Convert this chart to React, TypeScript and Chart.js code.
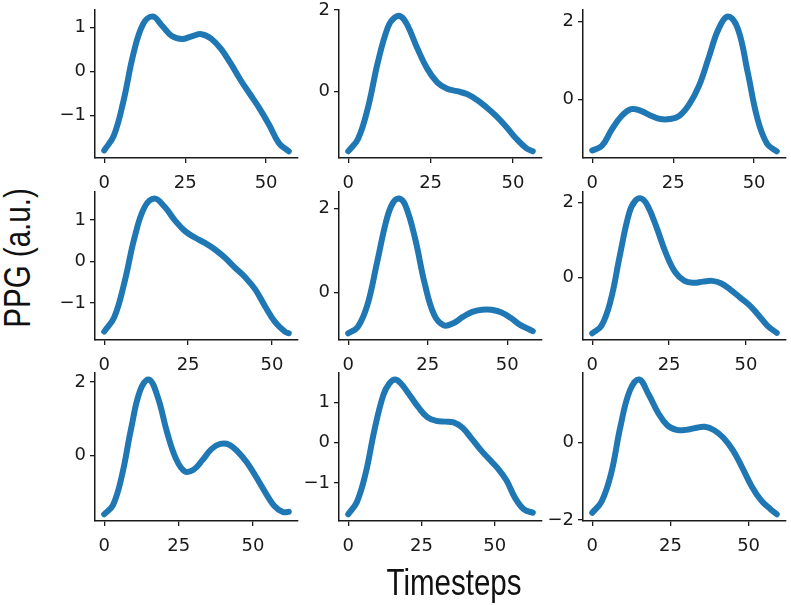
import React, { useEffect, useRef } from "react";
import { Chart, registerables } from "chart.js";

Chart.register(...registerables);

// ---- data ----
const xTickValues = [0, 25, 50];

const p1X = [0, 3, 6, 9, 12, 15, 18, 21, 24, 27, 30, 33, 36, 39, 42, 45, 48, 51, 54, 57];
const p1Y = [-1.79, -1.45, -0.65, 0.4, 1.08, 1.25, 1.03, 0.8, 0.74, 0.8, 0.85, 0.75, 0.52, 0.19, -0.18, -0.51, -0.84, -1.22, -1.63, -1.81];
const p1Ticks = [-1, 0, 1];

const p2X = [0, 3, 6, 9, 12, 14, 16, 18, 21, 24, 27, 30, 33, 36, 39, 42, 45, 48, 51, 54, 56];
const p2Y = [-1.48, -1.17, -0.4, 0.72, 1.57, 1.81, 1.84, 1.62, 1.05, 0.55, 0.22, 0.06, 0.0, -0.07, -0.21, -0.4, -0.62, -0.88, -1.17, -1.4, -1.48];
const p2Ticks = [0, 2];

const p3X = [0, 3, 6, 9, 12, 15, 18, 21, 24, 27, 30, 33, 36, 39, 42, 45, 48, 51, 54, 57];
const p3Y = [-1.29, -1.17, -0.76, -0.42, -0.24, -0.28, -0.4, -0.49, -0.49, -0.4, -0.11, 0.36, 1.08, 1.8, 2.12, 1.8, 0.71, -0.47, -1.12, -1.31];
const p3Ticks = [0, 2];

const p4X = [0, 3, 6, 9, 12, 15, 18, 21, 24, 27, 30, 33, 36, 39, 42, 45, 48, 51, 54, 55];
const p4Y = [-1.69, -1.34, -0.51, 0.57, 1.31, 1.52, 1.32, 1.0, 0.74, 0.58, 0.45, 0.29, 0.09, -0.15, -0.38, -0.67, -1.09, -1.47, -1.7, -1.73];
const p4Ticks = [-1, 0, 1];

const p5X = [0, 3, 6, 9, 12, 14, 16, 18, 21, 24, 27, 30, 33, 36, 39, 42, 45, 48, 51, 54, 57, 58];
const p5Y = [-0.98, -0.83, -0.31, 0.69, 1.72, 2.13, 2.24, 2.07, 1.29, 0.22, -0.54, -0.79, -0.74, -0.59, -0.47, -0.42, -0.42, -0.48, -0.61, -0.78, -0.89, -0.93];
const p5Ticks = [0, 2];

const p6X = [0, 3, 6, 9, 12, 14, 16, 18, 21, 24, 27, 30, 33, 36, 39, 42, 45, 48, 51, 54, 57, 60];
const p6Y = [-1.49, -1.29, -0.61, 0.6, 1.72, 2.05, 2.11, 1.92, 1.32, 0.64, 0.14, -0.09, -0.14, -0.11, -0.09, -0.16, -0.33, -0.53, -0.73, -1.0, -1.29, -1.48];
const p6Ticks = [0, 2];

const p7X = [0, 3, 6, 9, 12, 15, 18, 21, 24, 27, 30, 33, 36, 39, 42, 45, 48, 51, 54, 57, 60, 62];
const p7Y = [-1.59, -1.33, -0.52, 0.72, 1.76, 2.07, 1.59, 0.67, -0.06, -0.42, -0.38, -0.12, 0.18, 0.32, 0.3, 0.1, -0.19, -0.57, -0.98, -1.35, -1.53, -1.52];
const p7Ticks = [0, 2];

const p8X = [0, 3, 6, 9, 12, 14, 16, 18, 21, 24, 27, 30, 33, 36, 39, 42, 45, 48, 51, 54, 57, 60, 63];
const p8Y = [-1.77, -1.46, -0.74, 0.33, 1.18, 1.46, 1.56, 1.46, 1.17, 0.87, 0.63, 0.54, 0.52, 0.5, 0.37, 0.11, -0.16, -0.4, -0.63, -0.93, -1.37, -1.65, -1.73];
const p8Ticks = [-1, 0, 1];

const p9X = [0, 3, 6, 9, 12, 15, 18, 21, 24, 27, 30, 33, 36, 39, 42, 45, 48, 51, 54, 57, 59];
const p9Y = [-1.81, -1.52, -0.81, 0.41, 1.34, 1.63, 1.25, 0.78, 0.45, 0.33, 0.33, 0.38, 0.41, 0.32, 0.12, -0.2, -0.65, -1.13, -1.49, -1.72, -1.85];
const p9Ticks = [-2, 0];

const xLabel = "Timesteps";
const yLabel = "PPG (a.u.)";

// ---- layout ----
const COLS = [95, 339, 583];
const ROWS = [7, 189, 370];
const W = 203;
const H = 151;
const YW = 45;
const XH = 34;
const PT = 12;
const PR = 5;
const INK = "#1a1a1a";

const panels = [
  { xs: p1X, ys: p1Y, ticks: p1Ticks },
  { xs: p2X, ys: p2Y, ticks: p2Ticks },
  { xs: p3X, ys: p3Y, ticks: p3Ticks },
  { xs: p4X, ys: p4Y, ticks: p4Ticks },
  { xs: p5X, ys: p5Y, ticks: p5Ticks },
  { xs: p6X, ys: p6Y, ticks: p6Ticks },
  { xs: p7X, ys: p7Y, ticks: p7Ticks },
  { xs: p8X, ys: p8Y, ticks: p8Ticks },
  { xs: p9X, ys: p9Y, ticks: p9Ticks },
];

const fmt = (v: number) => (v < 0 ? "\u2212" + Math.abs(v) : String(v));

function Panel({ xs, ys, ticks, left, top }: { xs: number[]; ys: number[]; ticks: number[]; left: number; top: number }) {
  const ref = useRef<HTMLCanvasElement | null>(null);
  useEffect(() => {
    if (!ref.current) return;
    const last = xs[xs.length - 1];
    const lo = Math.min(...ys);
    const hi = Math.max(...ys);
    const r = hi - lo;
    const chart = new Chart(ref.current, {
      type: "line",
      data: {
        datasets: [
          {
            data: xs.map((x, i) => ({ x, y: ys[i] })),
            borderColor: "#1f77b4",
            borderWidth: 6,
            pointRadius: 0,
            tension: 0.4,
            fill: false,
            borderCapStyle: "round",
            borderJoinStyle: "round",
          },
        ],
      },
      options: {
        responsive: false,
        animation: false,
        devicePixelRatio: 1,
        layout: { padding: { top: PT, right: PR, left: 0, bottom: 0 } },
        plugins: { legend: { display: false }, tooltip: { enabled: false } },
        scales: {
          x: {
            type: "linear",
            min: -0.05 * last,
            max: 1.05 * last,
            afterBuildTicks: (s: any) => {
              s.ticks = xTickValues.map((v) => ({ value: v }));
            },
            afterFit: (s: any) => {
              s.height = XH;
            },
            grid: { display: true, drawOnChartArea: false, drawTicks: true, tickLength: 5, color: INK, lineWidth: 1.3 },
            border: { display: true, color: INK, width: 1.5 },
            ticks: {
              color: INK,
              font: { family: "'DejaVu Sans'", size: 18 },
              padding: 10,
              maxRotation: 0,
              autoSkip: false,
              callback: (v: any) => fmt(Number(v)),
            },
          },
          y: {
            type: "linear",
            min: lo - 0.05 * r,
            max: hi + 0.05 * r,
            afterBuildTicks: (s: any) => {
              s.ticks = ticks.map((v) => ({ value: v }));
            },
            afterFit: (s: any) => {
              s.width = YW;
            },
            grid: { display: true, drawOnChartArea: false, drawTicks: true, tickLength: 5, color: INK, lineWidth: 1.3 },
            border: { display: true, color: INK, width: 1.5 },
            ticks: {
              color: INK,
              font: { family: "'DejaVu Sans'", size: 18 },
              padding: 4,
              autoSkip: false,
              callback: (v: any) => fmt(Number(v)),
            },
          },
        },
      },
    } as any);
    return () => chart.destroy();
  }, []);
  return (
    <canvas
      ref={ref}
      width={YW + W + PR}
      height={PT + H + XH}
      style={{ position: "absolute", left: left - YW, top: top - PT, width: YW + W + PR, height: PT + H + XH }}
    />
  );
}

export default function App() {
  return (
    <div
      style={{
        position: "absolute",
        left: 0,
        top: 0,
        width: 791,
        height: 605,
        overflow: "hidden",
        background: "#ffffff",
      }}
    >
      {panels.map((p, i) => (
        <Panel key={i} xs={p.xs} ys={p.ys} ticks={p.ticks} left={COLS[i % 3]} top={ROWS[Math.floor(i / 3)]} />
      ))}
      <div
        style={{
          position: "absolute",
          left: 454 - 150,
          top: 565,
          width: 300,
          height: 36,
          lineHeight: "36px",
          fontSize: 36,
          fontFamily: "'Liberation Sans', sans-serif",
          color: "#111",
          textAlign: "center",
          whiteSpace: "nowrap",
          transform: "scaleX(0.82)",
        }}
      >
        {xLabel}
      </div>
      <div
        style={{
          position: "absolute",
          left: 18 - 150,
          top: 258 - 18,
          width: 300,
          height: 36,
          lineHeight: "36px",
          fontSize: 36,
          fontFamily: "'Liberation Sans', sans-serif",
          color: "#111",
          textAlign: "center",
          whiteSpace: "nowrap",
          transform: "rotate(-90deg) scaleX(0.82)",
        }}
      >
        {yLabel}
      </div>
    </div>
  );
}
